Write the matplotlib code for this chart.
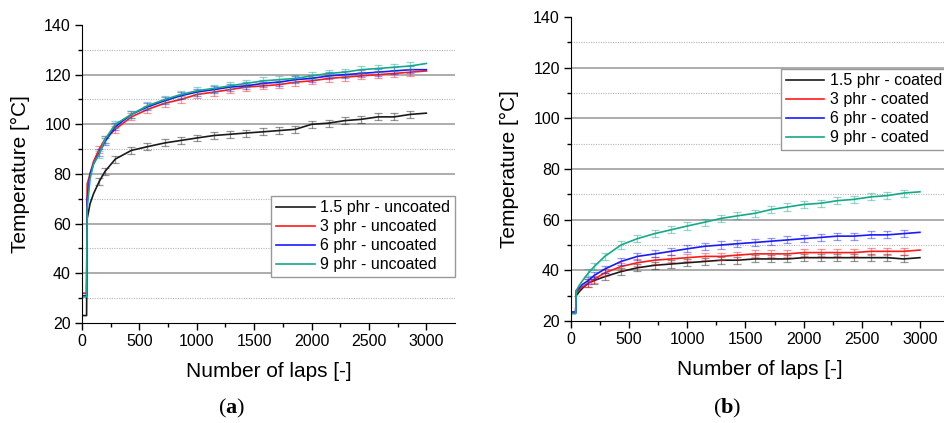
import numpy as np
import matplotlib.pyplot as plt

plt.rcParams['font.family'] = ['Liberation Sans', 'DejaVu Sans']
plt.rcParams['mathtext.fontset'] = 'custom'
plt.rcParams['mathtext.rm'] = 'Liberation Serif'
plt.rcParams['mathtext.bf'] = 'Liberation Serif:bold'

laps = [0, 40, 45, 70, 100, 150, 200, 290, 430, 570, 720, 860, 1000, 1150, 1290,
        1430, 1580, 1720, 1860, 2000, 2150, 2290, 2430, 2580, 2720, 2860, 3000]

# uncoated (a)
unc_15 = [23, 23, 62, 68, 72, 77, 81, 86, 89.5, 91, 92.5, 93.5, 94.5, 95.5, 96, 96.5,
          97, 97.5, 98, 100, 100.5, 101.5, 102, 103, 103, 104, 104.5]
unc_3 = [32, 32, 76, 80, 85, 90, 94, 98, 103, 106, 108.5, 110, 112, 113, 114, 115,
         115.5, 116, 117, 117.5, 118.5, 119, 119.5, 120, 120.5, 121, 121.5]
unc_6 = [31, 31, 70, 80, 84, 88.5, 93, 99, 104, 107, 109.5, 111.5, 113, 114, 115, 115.5,
         116.5, 117, 118, 118.5, 119.5, 120, 120.5, 121, 121.5, 122, 122]
unc_9 = [30.5, 30.5, 66, 78, 84, 88, 94, 100, 104, 107.5, 110, 112, 113.5, 114.5, 115.5,
         116.5, 117.5, 118, 118.5, 119.5, 120.5, 121, 122, 122.5, 123, 123.5, 124.5]

# coated (b)
coa_15 = [23, 23, 30, 31.5, 33, 35, 36, 37.5, 39.5, 41, 42, 42.5, 43, 43.5, 44, 44,
          44.5, 44.5, 44.5, 45, 45, 45, 45, 45, 45, 44.5, 45]
coa_3 = [23.5, 23.5, 31, 32.5, 33.5, 35, 36.5, 39, 41.5, 43, 44, 44.5, 45, 45.5, 45.5, 46,
         46.5, 46.5, 46.5, 47, 47, 47, 47, 47.5, 47.5, 47.5, 48]
coa_6 = [23.5, 23.5, 32, 33, 34.5, 36, 38, 40.5, 43.5, 45.5, 46.5, 47.5, 48.5, 49.5, 50,
         50.5, 51, 51.5, 52, 52.5, 53, 53.5, 53.5, 54, 54, 54.5, 55]
coa_9 = [23, 23, 32, 34, 36, 39, 41.5, 45.5, 50, 52.5, 54.5, 56, 57.5, 59, 60.5, 61.5,
         62.5, 64, 65, 66, 66.5, 67.5, 68, 69, 69.5, 70.5, 71]

err = 1.4
colors = ['#1a1a1a', '#ff1a1a', '#1a1aff', '#14a98a']
loads = ['1.5 phr', '3 phr', '6 phr', '9 phr']

fig = plt.figure(figsize=(9.44, 4.23), dpi=100)
ax1 = fig.add_axes([82/944, 100/423, 373/944, 298/423])
ax2 = fig.add_axes([571/944, 102/423, 378/944, 304/423])

x = np.array(laps)
for ax, series, tag in [(ax1, [unc_15, unc_3, unc_6, unc_9], 'uncoated'),
                        (ax2, [coa_15, coa_3, coa_6, coa_9], 'coated')]:
    for y in [40, 60, 80, 100, 120]:
        ax.axhline(y, color='#a6a6a6', lw=1.3, zorder=0)
    for y in [30, 50, 70, 90, 110, 130]:
        ax.axhline(y, color='#b5b5b5', lw=0.8, ls=(0, (1, 1.2)), zorder=0)
    for s, c, lab in zip(series, colors, loads):
        y = np.array(s)
        ax.plot(x, y, color=c, lw=1.2, label=lab + ' - ' + tag)
        ax.errorbar(x[5:-1], y[5:-1], yerr=err, fmt='none', ecolor=c, alpha=0.45,
                    elinewidth=0.9, capsize=3, capthick=0.9)
    ax.set_xlim(0, 3250)
    ax.set_ylim(20, 140)
    ax.set_xticks([0, 500, 1000, 1500, 2000, 2500, 3000])
    ax.set_xticks([250, 750, 1250, 1750, 2250, 2750], minor=True)
    ax.set_yticks([20, 40, 60, 80, 100, 120, 140])
    ax.set_yticks([30, 50, 70, 90, 110, 130], minor=True)
    ax.tick_params(which='major', direction='out', length=5, width=1, labelsize=11.5, pad=3)
    ax.tick_params(which='minor', direction='out', length=3, width=1)
    for sp in ['top', 'right']:
        ax.spines[sp].set_visible(False)
    ax.set_xlabel('Number of laps [-]', fontsize=15, labelpad=9)
    ax.set_ylabel('Temperature [°C]', fontsize=15, labelpad=10)

leg_kw = dict(fontsize=11.5, handlelength=2.4, handletextpad=0.35, labelspacing=0.25,
              borderpad=0.3, borderaxespad=0, fancybox=False, framealpha=1,
              edgecolor='#999999')
l1 = ax1.legend(loc='lower right', bbox_to_anchor=(1.0, 0.154), **leg_kw)
l2 = ax2.legend(loc='upper left', bbox_to_anchor=(0.555, 0.83), **leg_kw)
for l in (l1, l2):
    l.get_frame().set_linewidth(1.0)

fig.text(232/944, 15/423, r'$\mathrm{(}\mathbf{a}\mathrm{)}$', fontsize=16,
         ha='center', va='center')
fig.text(727/944, 15/423, r'$\mathrm{(}\mathbf{b}\mathrm{)}$', fontsize=16,
         ha='center', va='center')

fig.savefig('out.png', dpi=100)
